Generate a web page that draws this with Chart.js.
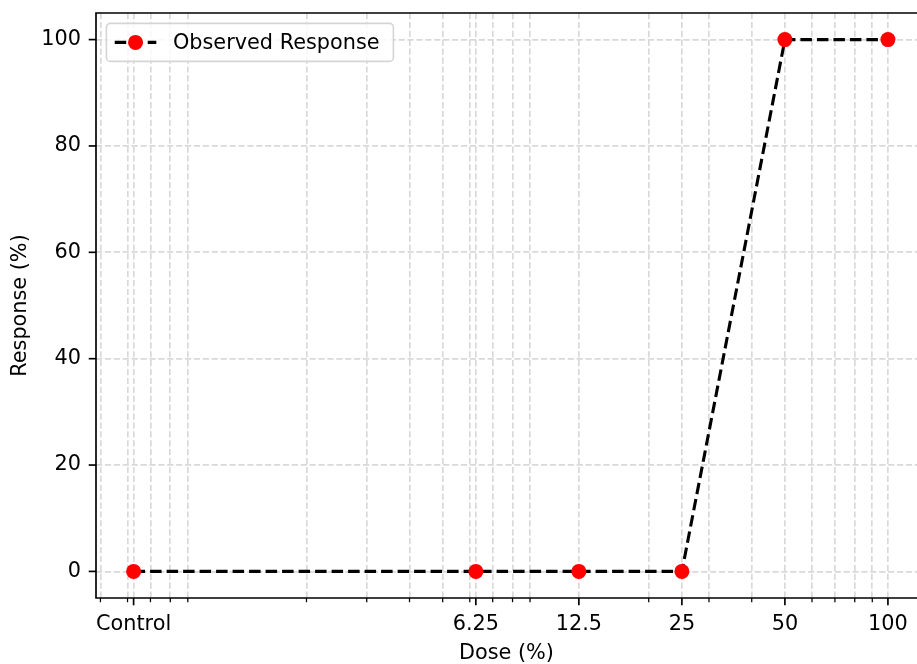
<!DOCTYPE html>
<html>
<head>
<meta charset="utf-8">
<script src="https://cdn.jsdelivr.net/npm/chart.js@4.4.1/dist/chart.umd.min.js"></script>
<style>
  html, body { margin: 0; padding: 0; background: #fff; overflow: hidden; }
</style>
</head>
<body>
<canvas id="chart" width="917" height="664"></canvas>
<script>
// Data
const doseLabels = ['Control', '6.25', '12.5', '25', '50', '100'];
const doseValues = [0.625, 6.25, 12.5, 25, 50, 100]; // control is placed at 0.625 on the log axis
const responseValues = [0, 0, 0, 0, 100, 100];
const minorDoseTicks = [0.5, 0.6, 0.7, 0.8, 0.9, 2, 3, 4, 5, 6, 7, 8, 9, 20, 30, 40, 60, 70, 80, 90];
const responseTicks = [0, 20, 40, 60, 80, 100];

const FONT = { family: 'DejaVu Sans', size: 20.8 };
const GRID_COLOR = '#d9d9d9';

// spines, tick marks and an in-axes legend, matplotlib style
const axesDecor = {
  id: 'axesDecor',
  afterDraw(chart) {
    const { ctx, chartArea: a, scales } = chart;
    ctx.save();

    // spines (the right one falls outside the picture)
    ctx.strokeStyle = '#000';
    ctx.lineWidth = 1.67;
    ctx.setLineDash([]);
    ctx.beginPath();
    ctx.moveTo(a.right + 2, a.top);
    ctx.lineTo(a.left, a.top);
    ctx.lineTo(a.left, a.bottom);
    ctx.lineTo(a.right + 2, a.bottom);
    ctx.stroke();

    // x tick marks
    scales.x.ticks.forEach(t => {
      const major = doseValues.includes(t.value);
      const px = scales.x.getPixelForValue(t.value);
      ctx.lineWidth = major ? 1.67 : 1.25;
      ctx.beginPath();
      ctx.moveTo(px, a.bottom);
      ctx.lineTo(px, a.bottom + (major ? 7.3 : 4.2));
      ctx.stroke();
    });

    // y tick marks
    ctx.lineWidth = 1.67;
    scales.y.ticks.forEach(t => {
      const py = scales.y.getPixelForValue(t.value);
      ctx.beginPath();
      ctx.moveTo(a.left, py);
      ctx.lineTo(a.left - 7.3, py);
      ctx.stroke();
    });

    // legend
    const em = FONT.size;
    const ds = chart.data.datasets[0];
    const bx = a.left + 0.5 * em;
    const by = a.top + 0.5 * em;
    const bw = 287;
    const bh = 38;
    ctx.beginPath();
    ctx.roundRect(bx, by, bw, bh, 4);
    ctx.fillStyle = 'rgba(255,255,255,0.8)';
    ctx.fill();
    ctx.strokeStyle = '#d5d5d5';
    ctx.lineWidth = 1.6;
    ctx.stroke();

    const cy = by + bh / 2;
    const hx0 = bx + 0.4 * em;
    const hx1 = hx0 + 2 * em;
    ctx.strokeStyle = ds.borderColor;
    ctx.lineWidth = ds.borderWidth;
    ctx.setLineDash(ds.borderDash);
    ctx.beginPath();
    ctx.moveTo(hx0, cy);
    ctx.lineTo(hx1, cy);
    ctx.stroke();
    ctx.setLineDash([]);
    ctx.fillStyle = ds.pointBackgroundColor;
    ctx.beginPath();
    ctx.arc((hx0 + hx1) / 2, cy, ds.pointRadius, 0, Math.PI * 2);
    ctx.fill();

    ctx.fillStyle = '#000';
    ctx.font = `${FONT.size}px "${FONT.family}"`;
    ctx.textBaseline = 'middle';
    ctx.textAlign = 'left';
    ctx.fillText(ds.label, hx1 + 0.8 * em, cy + 1);

    ctx.restore();
  }
};

const config = {
  type: 'line',
  data: {
    datasets: [{
      label: 'Observed Response',
      data: doseValues.map((d, i) => ({ x: d, y: responseValues[i] })),
      borderColor: '#000',
      borderWidth: 3.1,
      borderDash: [11.5, 5],
      pointRadius: 7.5,
      pointHoverRadius: 7.5,
      pointBackgroundColor: '#ff0000',
      pointBorderColor: '#ff0000',
      pointBorderWidth: 0,
      tension: 0
    }]
  },
  options: {
    responsive: false,
    animation: false,
    devicePixelRatio: 1,
    layout: { autoPadding: false, padding: { top: 13, right: 0, bottom: 0, left: 0 } },
    plugins: {
      legend: { display: false },
      tooltip: { enabled: false }
    },
    scales: {
      x: {
        type: 'logarithmic',
        min: 0.4853,
        max: 121.6, // axis runs on past the right edge of the picture
        afterBuildTicks: (scale) => {
          scale.ticks = [...doseValues, ...minorDoseTicks]
            .sort((p, q) => p - q)
            .map(v => ({ value: v }));
        },
        afterFit: (scale) => {
          scale.height = 66;
          scale.paddingLeft = 0;
          scale.paddingRight = 0;
        },
        ticks: {
          autoSkip: false,
          maxRotation: 0,
          padding: 14,
          color: '#000',
          font: FONT,
          callback: (value) => {
            const i = doseValues.indexOf(value);
            return i >= 0 ? doseLabels[i] : '';
          }
        },
        grid: { color: GRID_COLOR, lineWidth: 1.67, drawTicks: false },
        border: { display: false, dash: [6.2, 2.7] },
        title: {
          display: true,
          text: 'Dose (%)',
          color: '#000',
          font: { ...FONT, lineHeight: 1 },
          padding: { top: 0, bottom: 0 }
        }
      },
      y: {
        type: 'linear',
        min: -5,
        max: 105,
        afterBuildTicks: (scale) => {
          scale.ticks = responseTicks.map(v => ({ value: v }));
        },
        afterFit: (scale) => {
          scale.width = 96;
          scale.paddingTop = 0;
          scale.paddingBottom = 0;
        },
        ticks: { padding: 15, color: '#000', font: FONT },
        grid: { color: GRID_COLOR, lineWidth: 1.67, drawTicks: false },
        border: { display: false, dash: [6.2, 2.7] },
        title: {
          display: true,
          text: 'Response (%)',
          color: '#000',
          font: { ...FONT, lineHeight: 1 },
          padding: { top: 10.5, bottom: 0 }
        }
      }
    }
  },
  plugins: [axesDecor]
};

new Chart(document.getElementById('chart'), config);
</script>
</body>
</html>
